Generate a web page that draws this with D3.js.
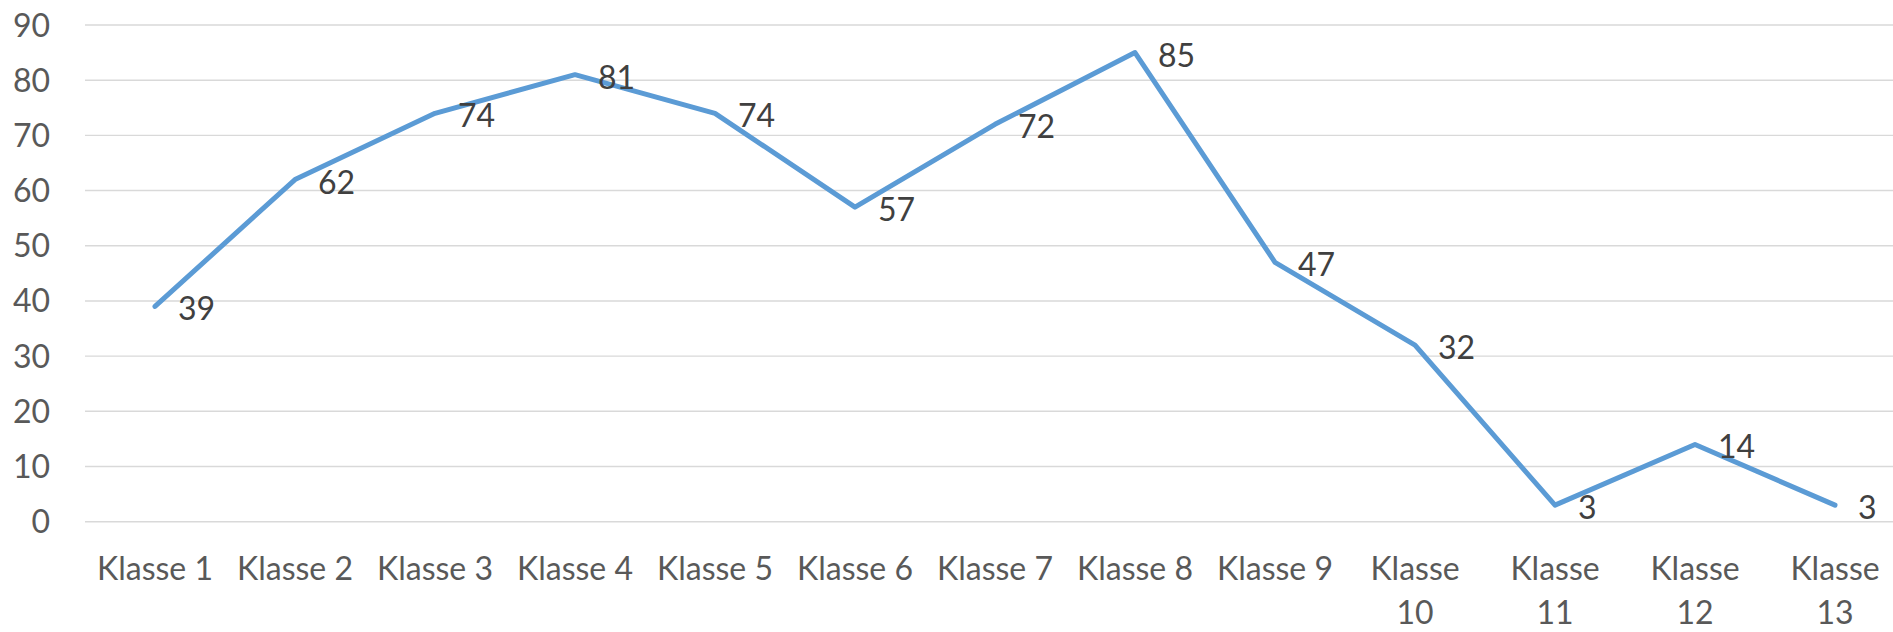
<!DOCTYPE html>
<html>
<head>
<meta charset="utf-8">
<script src="https://cdn.jsdelivr.net/npm/d3@7"></script>
<style>
  html, body { margin: 0; padding: 0; background: #fff; }
  svg { display: block; font-family: Lato, "Open Sans", sans-serif; }
</style>
</head>
<body>
<svg id="chart"></svg>
<script>
const width = 1893;
const height = 632;

// chart data
const categories = ["Klasse 1", "Klasse 2", "Klasse 3", "Klasse 4", "Klasse 5", "Klasse 6", "Klasse 7",
    "Klasse 8", "Klasse 9", "Klasse 10", "Klasse 11", "Klasse 12", "Klasse 13"];
const values = [39, 62, 74, 81, 74, 57, 72, 85, 47, 32, 3, 14, 3];
const yTicks = [0, 10, 20, 30, 40, 50, 60, 70, 80, 90];

const svg = d3.select("#chart")
    .attr("width", width)
    .attr("height", height);

const x = d3.scalePoint()
    .domain(categories)
    .range([85, 1905]) // plot area runs slightly past the right edge
    .padding(0.5);

const y = d3.scaleLinear()
    .domain([0, 90])
    .range([521.7, 25]);

// gridlines
svg.append("g")
    .selectAll("line")
    .data(yTicks)
    .join("line")
    .attr("x1", 85)
    .attr("x2", width)
    .attr("y1", d => y(d))
    .attr("y2", d => y(d))
    .attr("stroke", "#d9d9d9")
    .attr("stroke-width", 1.4);

// y axis labels
svg.append("g")
    .selectAll("text")
    .data(yTicks)
    .join("text")
    .attr("x", 50)
    .attr("y", d => y(d) + 11.5)
    .attr("text-anchor", "end")
    .attr("fill", "#595959")
    .style("font-size", "32px")
    .text(d => d);

// x axis labels, wrapped when wider than the band
const xLabels = svg.append("g")
    .selectAll("text")
    .data(categories)
    .join("text")
    .attr("text-anchor", "middle")
    .attr("fill", "#595959")
    .style("font-size", "32px")
    .attr("transform", d => `translate(${x(d)}, 580)`)
    .text(d => d);

xLabels.each(function (d) {
    const t = d3.select(this);
    if (this.getComputedTextLength() > x.step() * 0.88) {
        const words = d.split(" ");
        t.text(null);
        words.forEach((w, i) => {
            t.append("tspan")
                .attr("x", 0)
                .attr("dy", i === 0 ? 0 : 44)
                .text(w);
        });
    }
});

// line
const line = d3.line()
    .x((d, i) => x(categories[i]))
    .y(d => y(d));

svg.append("path")
    .datum(values)
    .attr("d", line)
    .attr("fill", "none")
    .attr("stroke", "#5b9bd5")
    .attr("stroke-width", 5)
    .attr("stroke-linejoin", "round")
    .attr("stroke-linecap", "round");

// data labels, to the right of each point
svg.append("g")
    .selectAll("text")
    .data(values)
    .join("text")
    .attr("x", (d, i) => x(categories[i]) + 23)
    .attr("y", d => y(d) + 14)
    .attr("fill", "#404040")
    .style("font-size", "32px")
    .text(d => d);
</script>
</body>
</html>
